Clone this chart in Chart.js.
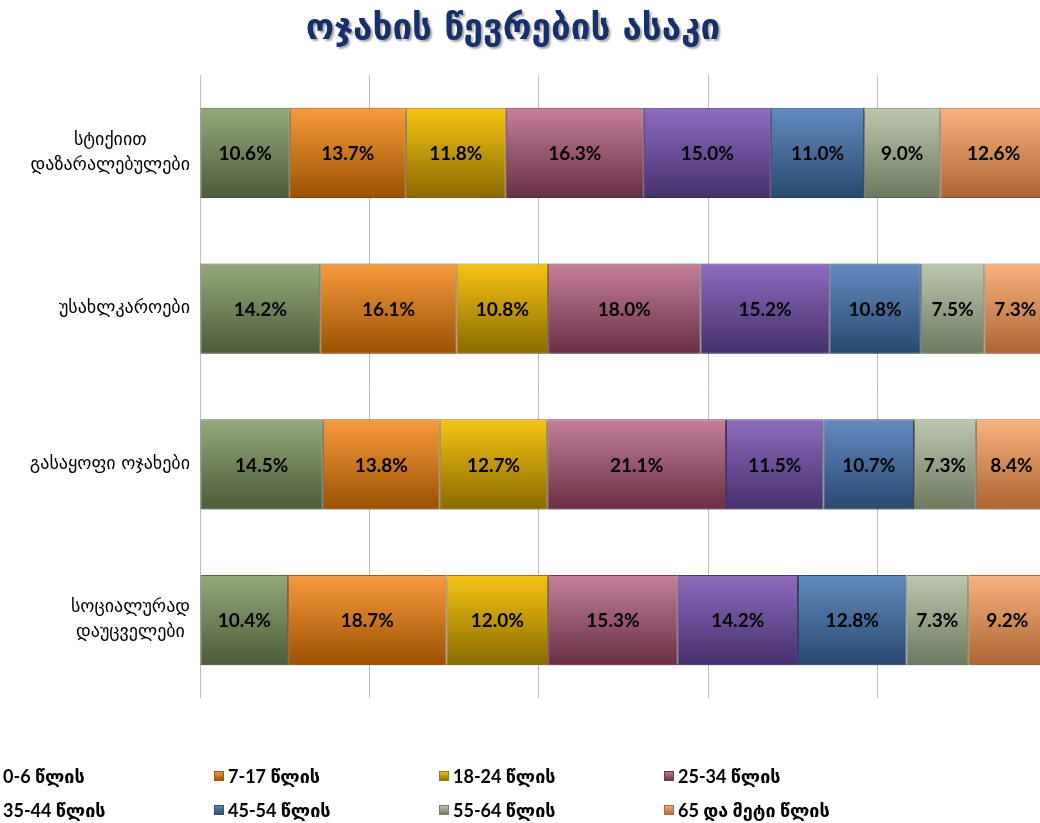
<!DOCTYPE html>
<html>
<head>
<meta charset="utf-8">
<script src="https://cdn.jsdelivr.net/npm/chart.js@4"></script>
<style>
  html, body { margin: 0; padding: 0; background: #fff; overflow: hidden; }
  #wrap { width: 1060px; height: 823px; }
</style>
</head>
<body>
<div id="wrap"><canvas id="ages" width="1060" height="823"></canvas></div>
<script>
// Données
const titre = 'ოჯახის წევრების ასაკი';
const categories = [
    ['სტიქიით', 'დაზარალებულები'],
    'უსახლკაროები',
    'გასაყოფი ოჯახები',
    ['სოციალურად', 'დაუცველები']
];
const groupes = ['0-6 წლის', '7-17 წლის', '18-24 წლის', '25-34 წლის',
                 '35-44 წლის', '45-54 წლის', '55-64 წლის', '65 და მეტი წლის'];
const age0_6   = [10.6, 14.2, 14.5, 10.4];
const age7_17  = [13.7, 16.1, 13.8, 18.7];
const age18_24 = [11.8, 10.8, 12.7, 12.0];
const age25_34 = [16.3, 18.0, 21.1, 15.3];
const age35_44 = [15.0, 15.2, 11.5, 14.2];
const age45_54 = [11.0, 10.8, 10.7, 12.8];
const age55_64 = [9.0, 7.5, 7.3, 7.3];
const age65    = [12.6, 7.3, 8.4, 9.2];
const series = [age0_6, age7_17, age18_24, age25_34, age35_44, age45_54, age55_64, age65];

// Couleurs : haut, bas, bordure
const couleurs = [
    ['#94a97b', '#4b5c39', '#5a6a48'],
    ['#f89b3f', '#9a5100', '#a05a12'],
    ['#f7c414', '#886a00', '#94781a'],
    ['#c5809a', '#682e44', '#6e3a4e'],
    ['#8c6cbe', '#45306c', '#4b3870'],
    ['#628bbf', '#2a4870', '#34506f'],
    ['#bdc7ae', '#6c795f', '#77836a'],
    ['#f9b37e', '#ab6533', '#a86a40']
];

function degrade(ctx, haut, bas, y0, y1) {
    const g = ctx.createLinearGradient(0, y0, 0, y1);
    g.addColorStop(0, haut);
    g.addColorStop(1, bas);
    return g;
}

const DEMI_BARRE = 45;

// Étiquettes, titre, légende et axe Y dessinés à la main
const decor = {
    id: 'decor',
    beforeDatasetsDraw(chart) {
        const ctx = chart.ctx;
        ctx.save();
        ctx.shadowColor = 'rgba(0,0,0,0.28)';
        ctx.shadowBlur = 4;
        ctx.shadowOffsetY = 3;
    },
    afterDatasetsDraw(chart) {
        const ctx = chart.ctx;
        ctx.restore();
        ctx.save();
        ctx.font = 'bold 19px Lato, "DejaVu Sans", sans-serif';
        ctx.fillStyle = '#000';
        ctx.textAlign = 'center';
        ctx.textBaseline = 'middle';
        chart.data.datasets.forEach(function (ds, i) {
            chart.getDatasetMeta(i).data.forEach(function (bar, j) {
                ctx.fillText(ds.data[j].toFixed(1) + '%', (bar.x + bar.base) / 2, bar.y + 1);
            });
        });
        ctx.restore();
    },
    afterDraw(chart) {
        const ctx = chart.ctx;
        const area = chart.chartArea;
        const yScale = chart.scales.y;

        // Titre
        ctx.save();
        ctx.font = 'bold 35px "DejaVu Sans", sans-serif';
        ctx.textAlign = 'center';
        ctx.textBaseline = 'middle';
        ctx.shadowColor = 'rgba(0,0,0,0.35)';
        ctx.shadowOffsetX = 2;
        ctx.shadowOffsetY = 2;
        ctx.shadowBlur = 2;
        ctx.fillStyle = '#15306b';
        ctx.fillText(titre, 513, 30);
        ctx.restore();

        // Catégories
        ctx.save();
        ctx.font = '18px "DejaVu Sans", sans-serif';
        ctx.fillStyle = '#000';
        ctx.textAlign = 'center';
        ctx.textBaseline = 'middle';
        categories.forEach(function (cat, i) {
            const lignes = Array.isArray(cat) ? cat : [cat];
            const largeur = Math.max.apply(null, lignes.map(function (l) { return ctx.measureText(l).width; }));
            const cx = area.left - 10 - largeur / 2;
            const cy = yScale.getPixelForValue(i);
            lignes.forEach(function (l, k) {
                ctx.fillText(l, cx, cy + (k - (lignes.length - 1) / 2) * 25);
            });
        });
        ctx.restore();

        // Légende
        ctx.save();
        ctx.font = 'bold 18px Lato, "DejaVu Sans", sans-serif';
        ctx.textBaseline = 'middle';
        groupes.forEach(function (nom, i) {
            const x = -11 + (i % 4) * 225;
            const y = 776 + Math.floor(i / 4) * 34;
            const c = couleurs[i];
            ctx.fillStyle = degrade(ctx, c[0], c[1], y - 5, y + 5);
            ctx.fillRect(x, y - 5, 10, 10);
            ctx.strokeStyle = c[2];
            ctx.lineWidth = 1;
            ctx.strokeRect(x + 0.5, y - 4.5, 9, 9);
            ctx.fillStyle = '#000';
            ctx.fillText(nom, x + 14, y + 1);
        });
        ctx.restore();
    }
};

new Chart(document.getElementById('ages').getContext('2d'), {
    type: 'bar',
    data: {
        labels: categories,
        datasets: series.map(function (valeurs, i) {
            return {
                label: groupes[i],
                data: valeurs,
                backgroundColor: function (c) {
                    const chart = c.chart;
                    if (!chart.chartArea || c.dataIndex === undefined) return couleurs[i][0];
                    const yc = chart.scales.y.getPixelForValue(c.dataIndex);
                    return degrade(chart.ctx, couleurs[i][0], couleurs[i][1], yc - DEMI_BARRE, yc + DEMI_BARRE);
                },
                borderColor: couleurs[i][2],
                borderWidth: 1,
                borderSkipped: false,
                barPercentage: 0.578,
                categoryPercentage: 1
            };
        })
    },
    options: {
        indexAxis: 'y',
        responsive: false,
        animation: false,
        layout: { padding: { top: 75, right: 13, bottom: 125, left: 0 } },
        plugins: {
            legend: { display: false },
            title: { display: false },
            tooltip: { enabled: false }
        },
        scales: {
            x: {
                stacked: true,
                min: 0,
                max: 100,
                ticks: { display: false, stepSize: 20 },
                grid: { color: '#bdbdbd', drawTicks: false },
                border: { display: false }
            },
            y: {
                stacked: true,
                ticks: { display: false },
                grid: { display: false },
                border: { display: false },
                afterFit: function (scale) { scale.width = 200; }
            }
        }
    },
    plugins: [decor]
});
</script>
</body>
</html>
